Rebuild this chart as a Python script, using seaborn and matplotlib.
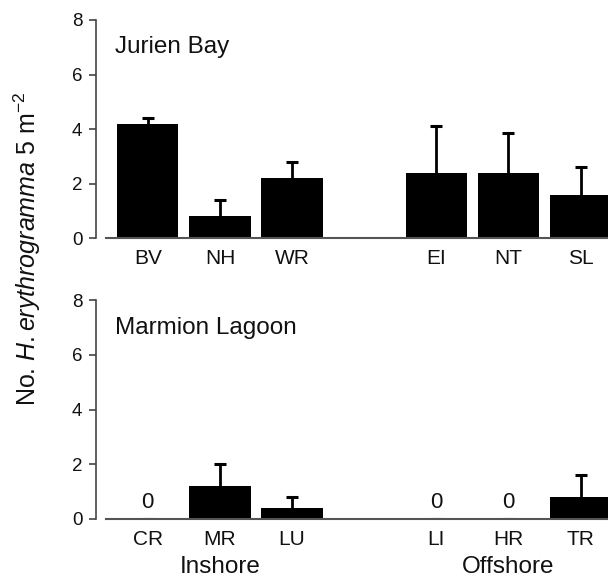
import pandas as pd
import matplotlib.pyplot as plt
import seaborn as sns

# Sites, with an empty slot between inshore and offshore groups
jurien_sites = ['BV', 'NH', 'WR', '', 'EI', 'NT', 'SL']
jurien_mean = [4.2, 0.8, 2.2, None, 2.4, 2.4, 1.6]
jurien_se = [0.2, 0.6, 0.6, None, 1.7, 1.45, 1.0]

marmion_sites = ['CR', 'MR', 'LU', '', 'LI', 'HR', 'TR']
marmion_mean = [0.0, 1.2, 0.4, None, 0.0, 0.0, 0.8]
marmion_se = [0.0, 0.8, 0.4, None, 0.0, 0.0, 0.8]

group_labels = ['Inshore', 'Offshore']

sns.set_style('white')
plt.rcParams['font.family'] = ['Liberation Sans', 'DejaVu Sans']
plt.rcParams['mathtext.fontset'] = 'custom'
plt.rcParams['mathtext.rm'] = 'Liberation Sans'
plt.rcParams['mathtext.it'] = 'Liberation Sans:italic'
plt.rcParams['text.color'] = '#111'
plt.rcParams['xtick.color'] = '#111'
plt.rcParams['ytick.color'] = '#111'

fig = plt.figure(figsize=(6.08, 5.81), dpi=100)
ax1 = fig.add_axes([0.1743, 0.590, 0.8257, 0.3756])
ax2 = fig.add_axes([0.1743, 0.1073, 0.8257, 0.3756])


def draw_panel(ax, sites, means, ses, title):
    df = pd.DataFrame({'site': sites, 'mean': means, 'se': ses})
    data = df[df['site'] != '']
    sns.barplot(data=data, x='site', y='mean', order=sites, color='black',
                width=0.85, errorbar=None, saturation=1, linewidth=0, ax=ax)
    pos = [sites.index(s) for s in data['site']]
    err = data['se'].tolist()
    _, caps, _ = ax.errorbar(pos, data['mean'], yerr=[[0] * len(err), err],
                             fmt='none', ecolor='black', elinewidth=2,
                             capsize=4.5, capthick=2.2)
    # only keep the upper caps
    caps[0].set_visible(False)
    for p, m in zip(pos, data['mean']):
        if m == 0:
            ax.text(p, 0.22, '0', ha='center', va='bottom', fontsize=16)
    ax.set_xlim(-0.58, 6.38)
    ax.set_ylim(0, 8)
    ax.set_yticks([0, 2, 4, 6, 8])
    ax.set_xticks(range(len(sites)))
    ax.set_xticklabels(sites, fontsize=15)
    ax.tick_params(axis='y', labelsize=13.5, length=5, width=1.2, color='#444',
                   direction='out', left=True, pad=5)
    ax.tick_params(axis='x', length=0, pad=8)
    ax.set_xlabel('')
    ax.set_ylabel('')
    for side in ['top', 'right']:
        ax.spines[side].set_visible(False)
    ax.spines['left'].set_position(('outward', 7))
    ax.spines['left'].set_color('#444')
    ax.spines['left'].set_linewidth(1.2)
    ax.spines['bottom'].set_color('#555')
    ax.spines['bottom'].set_linewidth(1.5)
    ax.text(-0.45, 7.0, title, ha='left', va='center', fontsize=17.5)


draw_panel(ax1, jurien_sites, jurien_mean, jurien_se, 'Jurien Bay')
draw_panel(ax2, marmion_sites, marmion_mean, marmion_se, 'Marmion Lagoon')

# group labels under lower panel
ax2.text(1, -1.78, group_labels[0], ha='center', va='center', fontsize=17.5,
         clip_on=False)
ax2.text(5, -1.78, group_labels[1], ha='center', va='center', fontsize=17.5,
         clip_on=False)

fig.text(0.045, 0.571, r'No. $\mathit{H. erythrogramma}$ 5 m$^{-2}$',
         rotation=90, ha='center', va='center', fontsize=18)

plt.savefig('out.png', dpi=100)
